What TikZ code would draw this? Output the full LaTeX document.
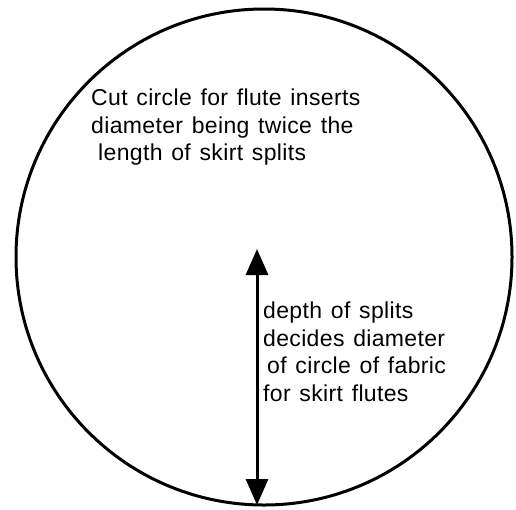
\documentclass[tikz,border=0pt]{standalone}
\usepackage{fontspec}
\setmainfont{Liberation Sans}[LetterSpace=1.5,WordSpace=1.3]
\usetikzlibrary{arrows.meta}

\begin{document}
\begin{tikzpicture}[x=1pt,y=-1pt,
  note/.style={align=left,inner sep=0pt,anchor=north west,
    font=\fontsize{23}{27.5}\selectfont}]
  \useasboundingbox (0,0) rectangle (516,509);
  \coordinate (M) at (264,257);
  \coordinate (T) at (257,249);
  \coordinate (B) at (257,505);
  \draw[line width=3pt] (M) circle (248);
  \draw[line width=3pt,{Triangle[length=26pt,width=22pt]}-{Triangle[length=26pt,width=22pt]}] (T) -- (B);
  \node[note] (cut) at (91,89) {Cut circle for flute inserts\\diameter being twice the\\\hspace*{7pt}length of skirt splits};
  \node[note] (depth) at (263,302) {depth of splits\\decides diameter\\\hspace*{4pt}of circle of fabric\\for skirt flutes};
\end{tikzpicture}
\end{document}
